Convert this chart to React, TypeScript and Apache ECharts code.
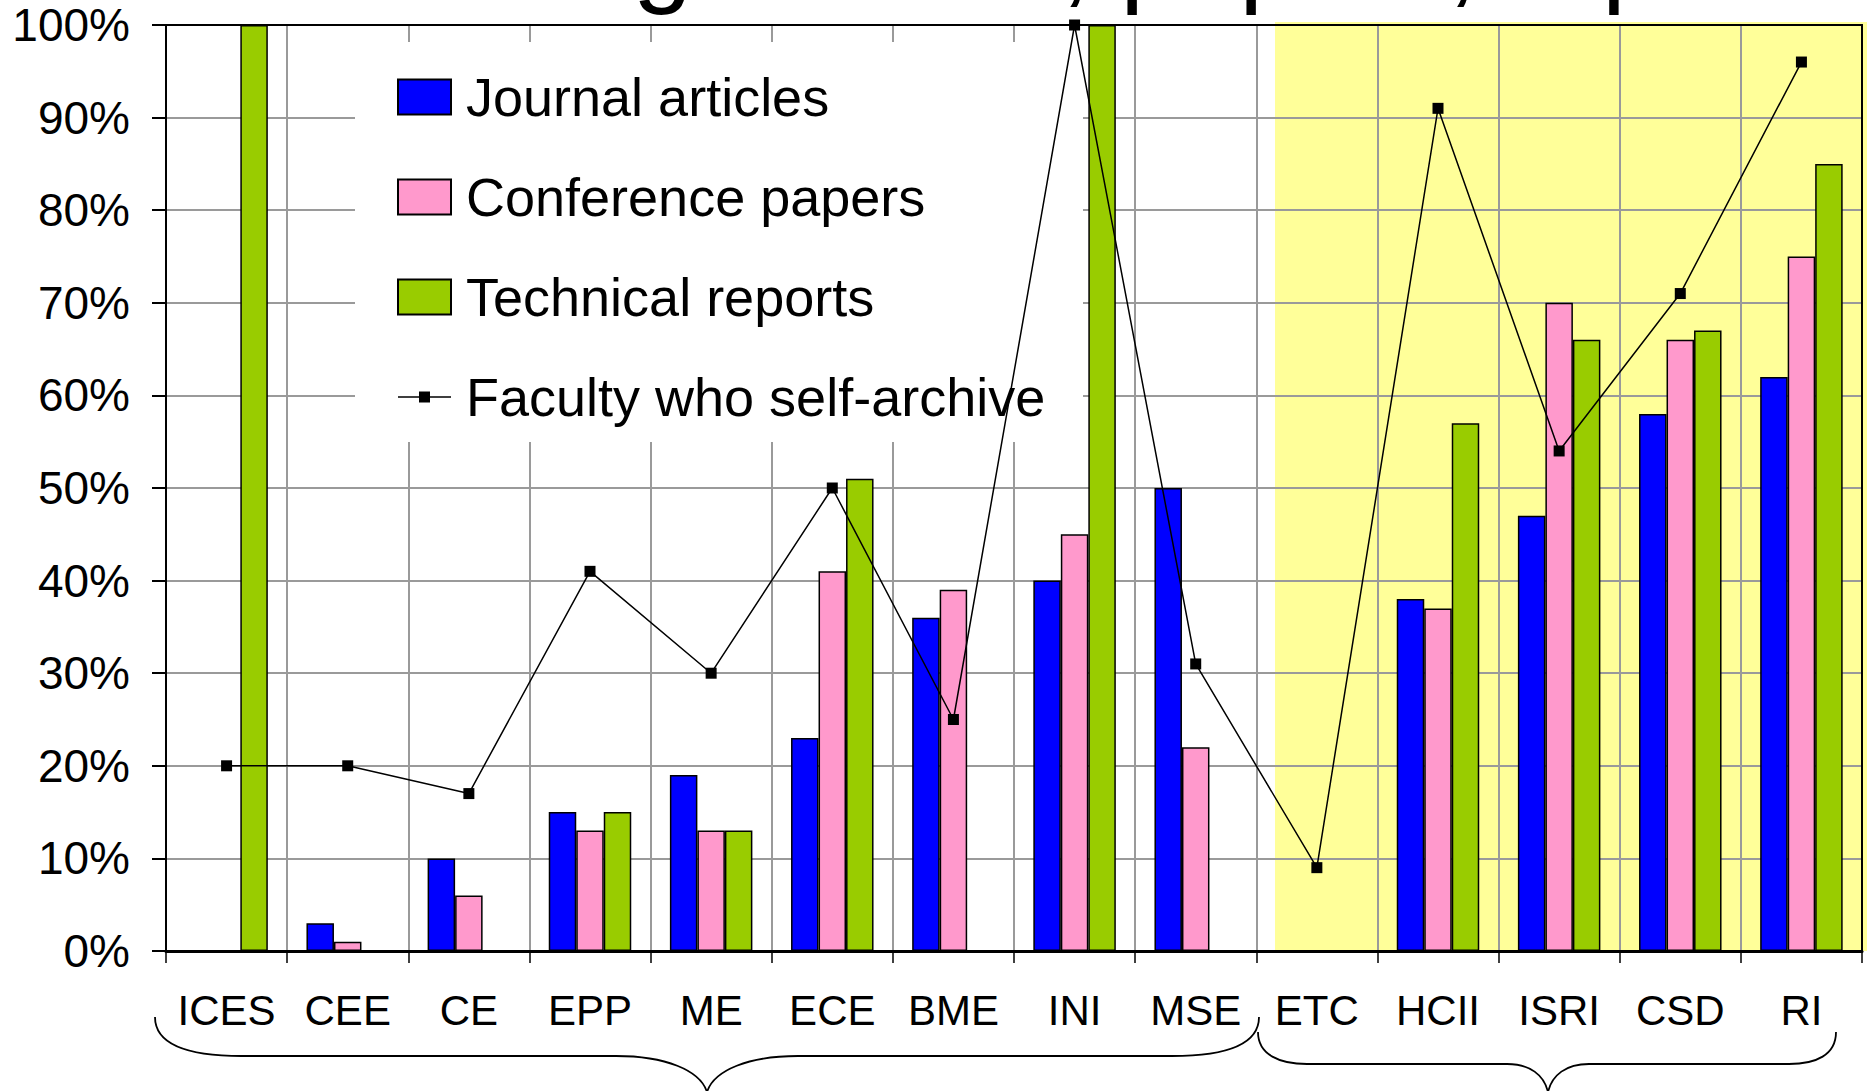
import React, { useEffect, useRef } from "react";
import * as echarts from "echarts";

const categories = ["ICES", "CEE", "CE", "EPP", "ME", "ECE", "BME", "INI", "MSE", "ETC", "HCII", "ISRI", "CSD", "RI"];
const journalArticles = [0, 3, 10, 15, 19, 23, 36, 40, 50, 0, 38, 47, 58, 62];
const conferencePapers = [0, 1, 6, 13, 13, 41, 39, 45, 22, 0, 37, 70, 66, 75];
const technicalReports = [100, 0, 0, 15, 13, 51, 0, 100, 0, 0, 57, 66, 67, 85];
const facultySelfArchive = [20, 20, 17, 41, 30, 50, 25, 100, 31, 9, 91, 54, 71, 96];
const seriesNames = ["Journal articles", "Conference papers", "Technical reports", "Faculty who self-archive"];
const titleText = "Self-archiving articles, papers, reports";

const FONT = "'Liberation Sans', Arial, sans-serif";

const BRACE_A =
  "M155,1017 C155,1045 190,1056 242,1056 L616,1056 C665,1056 700,1070 707,1092 C714,1070 749,1056 798,1056 L1172,1056 C1224,1056 1259,1045 1259,1017";
const BRACE_B =
  "M1258,1032 C1258,1055 1280,1064 1307,1064 L1507,1064 C1530,1064 1544,1075 1548,1092 C1552,1075 1566,1064 1589,1064 L1789,1064 C1816,1064 1836,1055 1836,1032";

echarts.graphic.registerShape("braceA", echarts.graphic.extendPath(BRACE_A, {}));
echarts.graphic.registerShape("braceB", echarts.graphic.extendPath(BRACE_B, {}));

const lineIcon =
  "path://M0,0 L0,0 Z M53,35 L53,35 Z M0,16.75 L53,16.75 L53,18.25 L0,18.25 Z M21,12 L32,12 L32,23 L21,23 Z";

export default function App() {
  const ref = useRef<HTMLDivElement>(null);

  useEffect(() => {
    if (!ref.current) return;
    const chart = echarts.init(ref.current, undefined, { renderer: "svg" });
    const barStyle = (color: string) => ({ color, borderColor: "#000", borderWidth: 1.5 });
    const option: any = {
      animation: false,
      backgroundColor: "#fff",
      textStyle: { fontFamily: FONT },
      grid: {
        left: 166,
        top: 25,
        width: 1696,
        height: 926,
        show: true,
        z: 2,
        borderColor: "#000",
        borderWidth: 2,
        backgroundColor: "transparent",
      },
      legend: {
        orient: "vertical",
        left: 397,
        top: 70,
        padding: 0,
        z: 3,
        itemWidth: 53,
        itemHeight: 35,
        itemGap: 46,
        selectedMode: false,
        textStyle: { fontFamily: FONT, fontSize: 54, color: "#000", padding: [0, 0, 0, 10] },
        data: [
          { name: seriesNames[0], icon: "rect" },
          { name: seriesNames[1], icon: "rect" },
          { name: seriesNames[2], icon: "rect" },
          { name: seriesNames[3], icon: lineIcon },
        ],
      },
      xAxis: {
        type: "category",
        data: categories,
        z: 1,
        boundaryGap: true,
        axisLine: { show: true, lineStyle: { color: "#000", width: 3 } },
        axisTick: { show: true, length: 12, lineStyle: { color: "#000", width: 1.5 }, interval: 0 },
        axisLabel: { interval: 0, margin: 38, fontSize: 42, color: "#000", fontFamily: FONT },
        splitLine: { show: true, interval: 0, lineStyle: { color: "#9a9a9a", width: 2 } },
      },
      yAxis: {
        type: "value",
        min: 0,
        max: 100,
        interval: 10,
        z: 1,
        axisLine: { show: true, lineStyle: { color: "#000", width: 2 } },
        axisTick: { show: true, length: 14, lineStyle: { color: "#000", width: 2 } },
        axisLabel: { formatter: "{value}%", margin: 36, fontSize: 46, color: "#000", fontFamily: FONT },
        splitLine: { show: true, lineStyle: { color: "#9a9a9a", width: 2 } },
      },
      graphic: [
        { type: "rect", z: 0, shape: { x: 1275, y: 22, width: 592, height: 929 }, style: { fill: "#FFFF99" } },
        { type: "rect", z: 2, shape: { x: 355, y: 42, width: 728, height: 400 }, style: { fill: "#fff" } },
        {
          type: "text",
          z: 6,
          x: 44,
          y: -44,
          style: { text: titleText, fontFamily: FONT, fontSize: 107, fill: "#000", verticalAlign: "middle", align: "left" },
        },
        { type: "braceA", z: 6, style: { fill: "none", stroke: "#000", lineWidth: 1.8 } },
        { type: "braceB", z: 6, style: { fill: "none", stroke: "#000", lineWidth: 1.8 } },
      ],
      series: [
        { name: seriesNames[0], type: "bar", z: 4, barWidth: 27.5, barGap: "0%", data: journalArticles, itemStyle: barStyle("#0000FF") },
        { name: seriesNames[1], type: "bar", z: 4, barWidth: 27.5, barGap: "0%", data: conferencePapers, itemStyle: barStyle("#FF99CC") },
        { name: seriesNames[2], type: "bar", z: 4, barWidth: 27.5, barGap: "0%", data: technicalReports, itemStyle: barStyle("#99CC00") },
        {
          name: seriesNames[3],
          type: "line",
          z: 5,
          data: facultySelfArchive,
          symbol: "rect",
          symbolSize: 11,
          itemStyle: { color: "#000" },
          lineStyle: { color: "#000", width: 1.5 },
        },
      ],
    };
    chart.setOption(option);
    return () => chart.dispose();
  }, []);

  return (
    <div
      ref={ref}
      style={{ position: "absolute", left: 0, top: 0, width: "1869px", height: "1091px" }}
    />
  );
}
